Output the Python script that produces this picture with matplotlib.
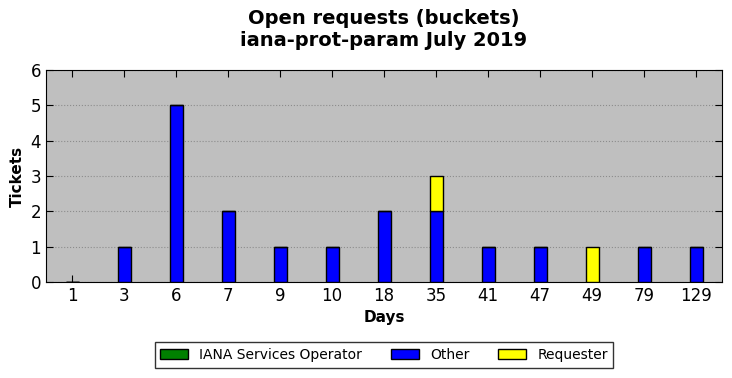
import numpy as np, matplotlib
matplotlib.use("Agg")
import matplotlib.pyplot as plt

days = ["1", "3", "6", "7", "9", "10", "18", "35", "41", "47", "49", "79", "129"]
iana = [0, 0, 0, 0, 0, 0, 0, 0, 0, 0, 0, 0, 0]
other = [0, 1, 5, 2, 1, 1, 2, 2, 1, 1, 0, 1, 1]
requester = [0, 0, 0, 0, 0, 0, 0, 1, 0, 0, 1, 0, 0]

fig = plt.figure(figsize=(7.32, 3.78), dpi=100)
ax = fig.add_axes([46/732, 1-282/378, 676/732, 212/378])
ax.set_facecolor("#bfbfbf")

x = np.arange(len(days))
w = 0.25
kw = dict(width=w, edgecolor="black", linewidth=1.0, zorder=3)
ax.bar(x, iana, color="green", label="IANA Services Operator", **kw)
ax.bar(x, other, bottom=iana, color="blue", label="Other", **kw)
bot = np.array(iana) + np.array(other)
ax.bar(x, requester, bottom=bot, color="yellow", label="Requester", **kw)

ax.set_xlim(-0.5, len(days) - 0.5)
ax.set_ylim(0, 6)
ax.set_xticks(x)
ax.set_xticklabels(days)
ax.tick_params(direction="in", top=True, right=True, labelsize=12, length=5)
ax.yaxis.grid(True, linestyle=":", color="#8c8c8c", linewidth=0.8, zorder=0)
ax.set_axisbelow(True)
ax.set_xlabel("Days", fontsize=11, fontweight="bold")
ax.set_ylabel("Tickets", fontsize=11, fontweight="bold")
ax.set_title("Open requests (buckets)\niana-prot-param July 2019",
             fontsize=14, fontweight="bold", pad=17)

leg = fig.legend(loc="center", bbox_to_anchor=(384/732, 1-355/378), ncol=3,
                 fontsize=10, frameon=True, fancybox=False, edgecolor="black",
                 handlelength=2.0, columnspacing=2.1)
leg.get_frame().set_linewidth(1.0)

fig.savefig("out.png", dpi=100)
